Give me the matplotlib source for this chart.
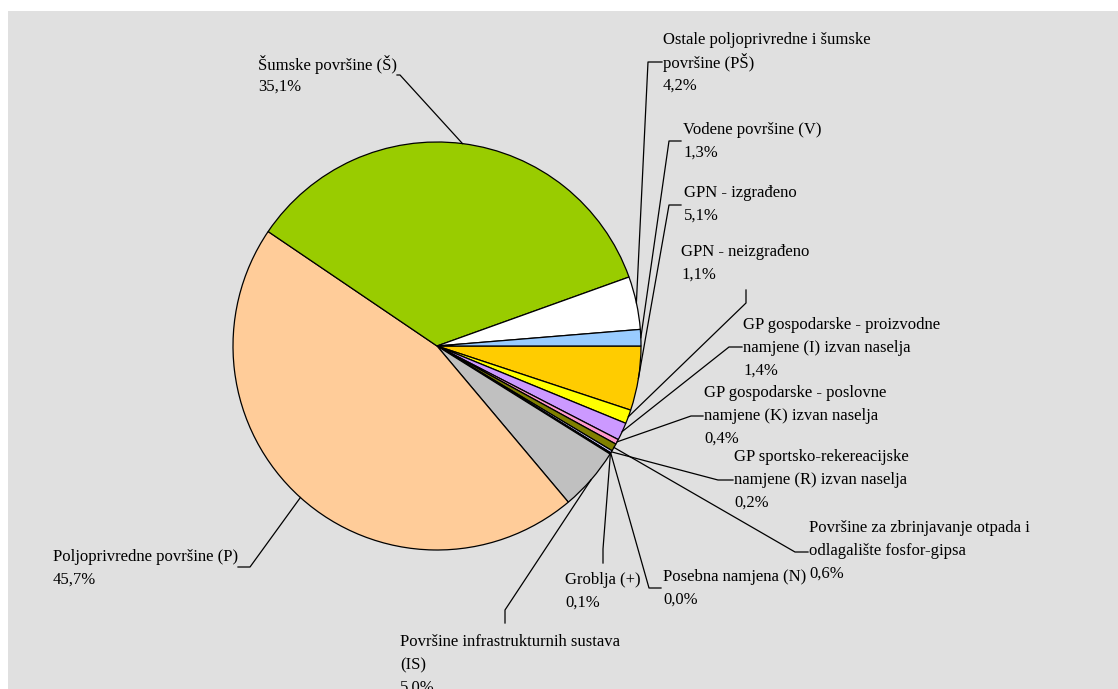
import matplotlib
matplotlib.use("Agg")
import matplotlib.pyplot as plt
from matplotlib.patches import Rectangle
import numpy as np

# ---- data (pie order, clockwise from 3 o'clock) ----
categories = [
    "GPN - izgrađeno",
    "GPN - neizgrađeno",
    "GP gospodarske - proizvodne\nnamjene (I) izvan naselja",
    "GP gospodarske - poslovne\nnamjene (K) izvan naselja",
    "Površine za zbrinjavanje otpada i\nodlagalište fosfor-gipsa",
    "GP sportsko-rekereacijske\nnamjene (R) izvan naselja",
    "Posebna namjena (N)",
    "Groblja (+)",
    "Površine infrastrukturnih sustava\n(IS)",
    "Poljoprivredne površine (P)",
    "Šumske površine (Š)",
    "Ostale poljoprivredne i šumske\npovršine (PŠ)",
    "Vodene površine (V)",
]
values = [5.1, 1.1, 1.4, 0.4, 0.6, 0.2, 0.0, 0.1, 5.0, 45.7, 35.1, 4.2, 1.3]
colors = ["#FFCC00", "#FFFF00", "#CC99FF", "#FF99CC", "#808000", "#CCCCFF",
          "#CCCCFF", "#CCCCFF", "#C0C0C0", "#FFCC99", "#99CC00", "#FFFFFF", "#99CCFF"]

# ---- layout (pixel coordinates, y from top) ----
W, H = 1118, 689
CX, CY, R = 437, 346, 204
# text left x, first line center y, leader path points (pixels) before wedge point
layout = [
    (684, 193, [(681, 205), (669, 205)]),
    (681, 252, [(746, 290), (746, 303)]),
    (743, 325, [(742, 347), (729, 347)]),
    (704, 393, [(703, 416), (691, 416)]),
    (809, 528, [(808, 552), (795, 552)]),
    (734, 457, [(733, 480), (718, 480)]),
    (663, 577, [(661, 588), (649, 588)]),
    (565, 580, [(603, 563), (603, 549)]),
    (400, 642, [(505, 623), (505, 610)]),
    (53, 557, [(238, 567), (250, 567)]),
    (258, 64, [(397, 75), (400, 75)]),
    (663, 40, [(662, 62), (648, 62)]),
    (683, 130, [(681, 141), (669, 141)]),
]
PITCH = 23

fig = plt.figure(figsize=(W / 100, H / 100), dpi=100)
fig.patch.set_facecolor("white")
ax = fig.add_axes([0, 0, 1, 1])
ax.add_patch(Rectangle((8, 0), W - 8, H - 11, facecolor="#E0E0E0", edgecolor="none", zorder=0))

wedges, _ = ax.pie(values, colors=colors, startangle=0, counterclock=False,
                   center=(CX, H - CY), radius=R,
                   wedgeprops=dict(edgecolor="black", linewidth=0.9), frame=True)
for w in wedges:
    w.set_zorder(2)

ax.set_xlim(0, W)
ax.set_ylim(0, H)
ax.set_aspect("equal")
ax.axis("off")

font = dict(family="Liberation Serif", size=12, color="black")

for w, cat, val, (tx, ty, path) in zip(wedges, categories, values, layout):
    lines = cat.split("\n") + [f"{val:.1f}".replace(".", ",") + "%"]
    for i, ln in enumerate(lines):
        ax.text(tx, H - (ty + i * PITCH), ln, ha="left", va="center", zorder=5, **font)
    mid = np.deg2rad((w.theta1 + w.theta2) / 2)
    px = CX + R * np.cos(mid)
    py = (H - CY) + R * np.sin(mid)
    xs = [p[0] for p in path] + [px]
    ys = [H - p[1] for p in path] + [py]
    ax.plot(xs, ys, color="black", linewidth=0.9, zorder=3)

fig.savefig("out.png", dpi=100)
